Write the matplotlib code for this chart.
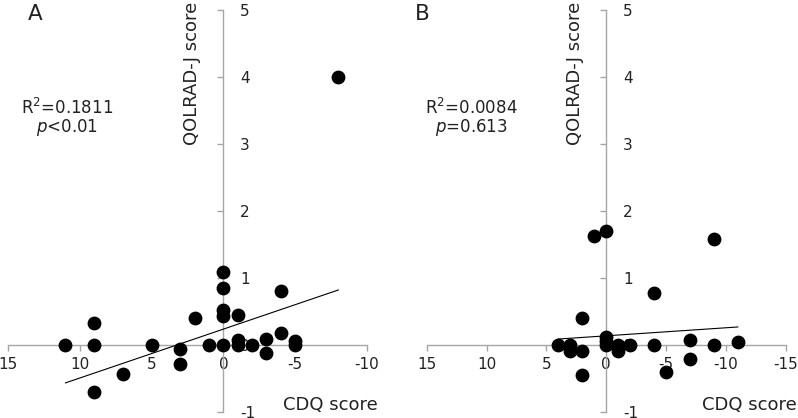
import numpy as np
import matplotlib
matplotlib.use("Agg")
import matplotlib.pyplot as plt

# Panel A data (CDQ score, QOLRAD-J score)
cdq_a = [11, 9, 9, 9, 7, 5, 3, 3, 2, 1, 0, 0, 0, 0, 0, -1, -1, -1, -2, -3, -3, -4, -4, -5, -5, -8]
qol_a = [0.0, 0.34, 0.0, -0.70, -0.42, 0.0, -0.06, -0.27, 0.41, 0.0, 1.1, 0.85, 0.53, 0.44, 0.0,
         0.45, 0.08, 0.0, 0.0, 0.10, -0.11, 0.81, 0.19, 0.06, 0.0, 4.0]
# Panel B data
cdq_b = [4, 3, 3, 2, 2, 2, 1, 0, 0, 0, 0, -1, -1, -2, -4, -4, -5, -7, -7, -9, -9, -11]
qol_b = [0.0, 0.01, -0.09, -0.09, -0.44, 0.41, 1.63, 1.70, 0.13, 0.06, 0.0, 0.01, -0.09, 0.01,
         0.78, 0.0, -0.39, 0.085, -0.20, 1.59, 0.0, 0.045]

# Trend lines: (intercept, slope)
fit_a = (0.243, -0.0729)
fit_b = (0.143, -0.012)

panel_labels = ["A", "B"]
stats_r2 = ["R$^2$=0.1811", "R$^2$=0.0084"]
stats_p = ["$p$<0.01", "$p$=0.613"]
xlims = [(15, -10), (15, -15)]
xticks = [[15, 10, 5, 0, -5, -10], [15, 10, 5, 0, -5, -10, -15]]
yticks = [-1, 0, 1, 2, 3, 4, 5]

plt.rcParams['font.family'] = ['DejaVu Sans']
plt.rcParams['mathtext.fontset'] = 'dejavusans'
plt.rcParams['axes.unicode_minus'] = False

W, H = 798, 418
fig = plt.figure(figsize=(W / 100, H / 100), dpi=100)

axes_px = [(8, 367), (426.7, 785.7)]
ytop_px, ybot_px = 10, 412.5
gray = '#a6a6a6'
txt = '#222222'

datasets = [(cdq_a, qol_a, fit_a), (cdq_b, qol_b, fit_b)]
stat_x_px = [67, 471.5]

for i, ((xs, ys, fit), (l, r)) in enumerate(zip(datasets, axes_px)):
    ax = fig.add_axes([l / W, 1 - ybot_px / H, (r - l) / W, (ybot_px - ytop_px) / H])
    ax.set_xlim(*xlims[i])
    ax.set_ylim(-1, 5)
    ax.patch.set_alpha(0)
    ax.spines['top'].set_visible(False)
    ax.spines['left'].set_position(('data', 0))
    ax.spines['right'].set_position(('data', 0))
    ax.spines['right'].set_visible(False)
    ax.spines['bottom'].set_position(('data', 0))
    for s in ['left', 'bottom']:
        ax.spines[s].set_color(gray)
        ax.spines[s].set_linewidth(1.0)
    ax.set_xticks(xticks[i])
    ax.set_yticks(yticks)
    ax.set_yticklabels([str(t) for t in yticks])
    ax.tick_params(axis='x', direction='out', length=4, width=1, color=gray,
                   labelsize=11, pad=4, labelcolor=txt)
    ax.tick_params(axis='y', direction='out', length=4, width=1, color=gray,
                   left=True, right=False, labelleft=False, labelright=True,
                   labelsize=11, pad=8, labelcolor=txt)
    ax.scatter(xs, ys, s=80, color='black', zorder=5, clip_on=False)
    a, b = fit
    xx = np.array([max(xs), min(xs)])
    ax.plot(xx, a + b * xx, color='black', lw=0.8, zorder=4)

    ax.text(2.2 if i == 0 else 2.6, 5.13, "QOLRAD-J score", rotation=90, ha='center', va='top',
            fontsize=13, color=txt)
    fig.text((r + 11) / W, 1 - 405 / H, "CDQ score", ha='right', va='center',
             fontsize=13, color=txt)
    fig.text((35 if i == 0 else 422) / W, 1 - 14 / H, panel_labels[i], ha='center', va='center',
             fontsize=15.5, color=txt)
    fig.text(stat_x_px[i] / W, 1 - 108 / H, stats_r2[i], ha='center', va='center',
             fontsize=12, color=txt)
    fig.text(stat_x_px[i] / W, 1 - 128 / H, stats_p[i], ha='center', va='center',
             fontsize=12, color=txt)

fig.savefig("out.png", dpi=100)
